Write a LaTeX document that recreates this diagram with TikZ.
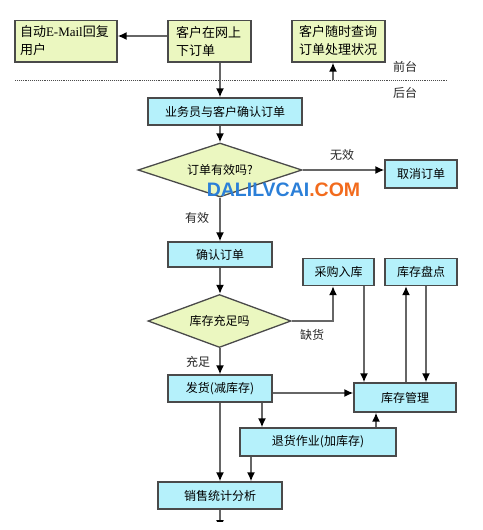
\documentclass[tikz,border=0pt]{standalone}
\usepackage{fontspec}
\newfontfamily\cjk{Noto Sans CJK SC}
\newfontfamily\latin{Liberation Serif}
\newfontfamily\wmfont{Liberation Sans}
\usetikzlibrary{shapes.geometric,arrows.meta}
\definecolor{boxgreen}{HTML}{EBF7C0}
\definecolor{boxblue}{HTML}{B5F1FB}
\definecolor{boxline}{HTML}{4A4A4A}
\definecolor{wmblue}{HTML}{2B7FD8}
\definecolor{wmorange}{HTML}{F26B1D}

\begin{document}
\begin{tikzpicture}[x=1pt,y=-1pt]
\tikzstyle{flow-box}=
[
	draw=boxline, line width=1.3pt, inner sep=0pt,
	font=\cjk\fontsize{12}{14}\selectfont
]
\tikzstyle{front-box}=[flow-box, fill=boxgreen, minimum height=42pt, align=left,
	font=\cjk\fontsize{13}{18}\selectfont]
\tikzstyle{back-box}=[flow-box, fill=boxblue, minimum height=27pt]
\tikzstyle{check}=[flow-box, diamond, aspect=3, fill=boxgreen]
\tikzstyle{flow-label}=[inner sep=0pt, text=black!85, font=\cjk\fontsize{12}{14}\selectfont]
\tikzstyle{arr}=[draw=black!60, line width=1.6pt, -{Latex[length=9pt,width=8pt,color=black]}]

\useasboundingbox (0,0) rectangle (482,530);
\clip (0,20.5) rectangle (482,521);

\node[front-box, minimum width=102pt, text width=92pt] (mail) at (66,41)
	{自动{\latin E-Mail}回复\\用户};
\node[front-box, minimum width=83pt, text width=67pt] (order) at (209.5,41)
	{客户在网上\\下订单};
\node[front-box, minimum width=93pt, text width=79pt] (query) at (338.5,41)
	{客户随时查询\\订单处理状况};

\draw[black!70, densely dotted, line width=0.9pt] (15,80) -- (448,80);
\coordinate (split) at (333,80);
\node[flow-label] (front) at (405,67) {前台};
\node[flow-label] (back) at (405,93) {后台};

\node[back-box, minimum width=154pt] (confirm) at (225,111.5) {业务员与客户确认订单};
\node[check, minimum width=164pt, minimum height=54pt] (valid) at (220,170) {订单有效吗?};
\node[back-box, minimum width=72pt, minimum height=28pt] (cancel) at (421,174) {取消订单};
\node[back-box, minimum width=104pt, minimum height=25pt] (ok) at (220,254.5) {确认订单};
\node[check, minimum width=143pt, minimum height=53pt] (stock) at (219.5,321) {库存充足吗};
\node[back-box, minimum width=71pt] (buy) at (338.5,272) {采购入库};
\node[back-box, minimum width=72pt] (count) at (421,272) {库存盘点};
\node[back-box, minimum width=104pt] (ship) at (220,388.5) {发货(减库存)};
\node[back-box, minimum width=102pt, minimum height=29pt] (inv) at (405,397.5) {库存管理};
\node[back-box, minimum width=156pt, minimum height=28pt] (ret) at (318,442) {退货作业(加库存)};
\node[back-box, minimum width=124pt] (sale) at (220,495.5) {销售统计分析};
\coordinate (out) at (220,529);

\node[flow-label] (no) at (342,155) {无效};
\node[flow-label] (yes) at (197,218) {有效};
\node[flow-label] (lack) at (312,335) {缺货};
\node[flow-label] (enough) at (198,362) {充足};

\draw[arr] ([yshift=5pt]order.west) -- ([yshift=5pt]order.west -| mail.east);
\draw[arr] (split) -- (split |- query.south);
\draw[arr] (order.south -| valid) -- (confirm.north -| valid);
\draw[arr] (confirm.south -| valid) -- (valid.north);
\draw[arr] (valid.east) -- (valid.east -| cancel.west);
\draw[arr] (valid.south) -- (ok.north);
\draw[arr] (ok.south) -- (ok.south |- stock.north);
\draw[arr] (stock.east) -| ([xshift=-5.5pt]buy.south);
\draw[arr] (stock.south -| ship) -- (ship.north);
\draw[arr] ([xshift=25.5pt]buy.south) -- ([xshift=25.5pt]buy.south |- inv.north);
\draw[arr] ([xshift=-15pt]count.south |- inv.north) -- ([xshift=-15pt]count.south);
\draw[arr] ([xshift=5pt]count.south) -- ([xshift=5pt]count.south |- inv.north);
\draw[arr] ([yshift=-4.5pt]ship.east) -- ([yshift=-4.5pt]ship.east -| inv.west);
\draw[arr] ([xshift=42pt]ship.south) -- ([xshift=42pt]ship.south |- ret.north);
\draw[arr] ([xshift=58pt]ret.north) -- ([xshift=58pt]ret.north |- inv.south);
\draw[arr] (ship.south) -- (sale.north);
\draw[arr] ([xshift=-67pt]ret.south) -- ([xshift=-67pt]ret.south |- sale.north);
\draw[arr] (sale.south) -- (out);

\node[inner sep=0pt, font=\wmfont\bfseries\fontsize{19.5}{20}\selectfont] (mark) at (283.5,190)
	{\textcolor{wmblue}{DALILVCAI}\textcolor{wmorange}{.COM}};
\end{tikzpicture}
\end{document}
